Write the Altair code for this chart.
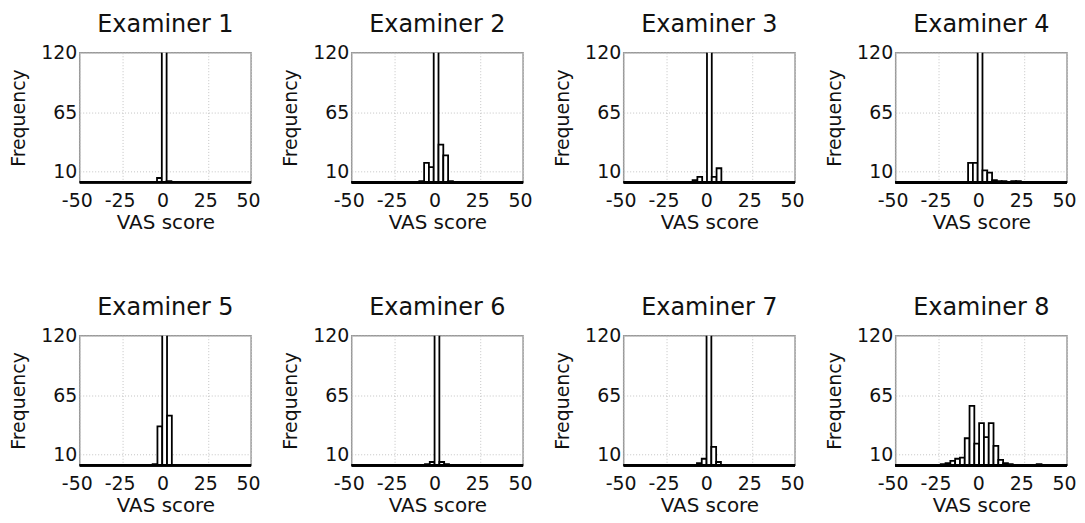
import altair as alt
import pandas as pd

FONT = "DejaVu Sans"
BIN_WIDTH = 2.8

titles = [f"Examiner {i}" for i in range(1, 9)]

# bin centres and frequencies (central bars exceed the 120 axis limit)
centers_1 = [-3.5, -0.7, 2.1]
counts_1 = [4, 300, 1]

centers_2 = [-9.15, -6.35, -3.55, -0.75, 2.05, 4.85, 7.65]
counts_2 = [1, 18, 14, 300, 35, 25, 1]

centers_3 = [-8.4, -5.6, 0.0, 2.8, 5.6]
counts_3 = [2, 5, 300, 5, 13]

centers_4 = [-6.35, -3.55, -0.75, 2.05, 4.85, 7.65, 10.45, 13.25, 18.85, 21.65]
counts_4 = [18, 18, 300, 11, 9, 2, 1, 1, 1, 1]

centers_5 = [-6.05, -3.25, -0.45, 2.35]
counts_5 = [1, 36, 300, 46]

centers_6 = [-5.85, -3.05, -0.25, 2.55, 5.35]
counts_6 = [1, 3, 300, 3, 1]

centers_7 = [-5.85, -3.05, -0.25, 2.55, 5.35]
counts_7 = [2, 6, 300, 17, 3]

centers_8 = [-22.3, -19.5, -16.7, -13.9, -11.1, -8.3, -5.5, -2.7, 0.1, 2.9,
             5.7, 8.5, 11.3, 14.1, 16.9, 33.7]
counts_8 = [1, 2, 4, 6, 7, 25, 55, 20, 39, 26, 39, 18, 5, 2, 1, 1]

all_centers = [centers_1, centers_2, centers_3, centers_4,
               centers_5, centers_6, centers_7, centers_8]
all_counts = [counts_1, counts_2, counts_3, counts_4,
              counts_5, counts_6, counts_7, counts_8]

x_ticks = [-50, -25, 0, 25, 50]
y_ticks = [10, 65, 120]
x_domain = [-50, 50]
y_domain = [0, 120]

TEXT = "#111111"


def panel(title, centers, counts):
    df = pd.DataFrame({"center": centers, "count": counts})
    xscale = alt.Scale(domain=x_domain, nice=False, zero=False)
    yscale = alt.Scale(domain=y_domain, nice=False)
    xaxis = alt.Axis(values=x_ticks, title="VAS score", labelFlush=False,
                     labelOffset=-3, labelPadding=9, titlePadding=2,
                     labelFontSize=19, titleFontSize=20,
                     labelExpr="'' + datum.value")
    yaxis = alt.Axis(values=y_ticks, title="Frequency", labelPadding=3,
                     titlePadding=12, labelFontSize=19, titleFontSize=19)
    bars = (
        alt.Chart(df)
        .transform_calculate(
            x0=f"datum.center - {BIN_WIDTH / 2}",
            x1=f"datum.center + {BIN_WIDTH / 2}",
            base="0",
        )
        .mark_bar(fill="white", stroke="black", strokeWidth=1.8, clip=True)
        .encode(
            x=alt.X("x0:Q", scale=xscale, axis=xaxis),
            x2="x1:Q",
            y=alt.Y("count:Q", scale=yscale, axis=yaxis),
            y2="base:Q",
        )
    )
    base = (
        alt.Chart(df)
        .mark_rule(color="black", strokeWidth=2.5)
        .encode(y=alt.datum(0, scale=yscale))
    )
    return alt.layer(bars, base).properties(
        width=172,
        height=130,
        title=alt.TitleParams(title, fontSize=24, fontWeight="normal",
                              font=FONT, color=TEXT, offset=7),
    )


panels = [panel(t, c, n) for t, c, n in zip(titles, all_centers, all_counts)]

chart = (
    alt.concat(*panels, columns=4, spacing={"row": 154, "column": 101},
               bounds="flush")
    .properties(padding={"left": 0, "top": 3, "right": 0, "bottom": 0},
                background="white")
    .configure(font=FONT)
    .configure_axis(
        grid=True,
        gridColor="#c4c4c4",
        gridDash=[1, 2],
        gridWidth=1,
        domain=False,
        ticks=False,
        labelColor=TEXT,
        titleColor=TEXT,
        labelFont=FONT,
        titleFont=FONT,
        titleFontWeight="normal",
    )
    .configure_view(stroke="#999999", strokeWidth=1.5)
)

chart.save("out.html", embed_options={"renderer": "svg", "actions": False})
